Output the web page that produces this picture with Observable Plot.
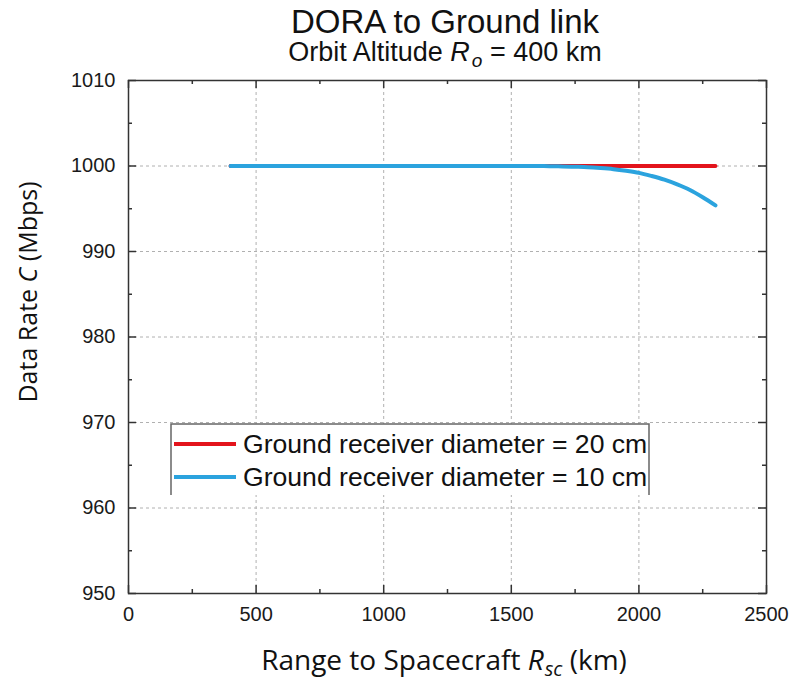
<!DOCTYPE html>
<html>
<head>
<meta charset="utf-8">
<script src="https://cdn.jsdelivr.net/npm/d3@7"></script>
<script src="https://cdn.jsdelivr.net/npm/@observablehq/plot@0.6"></script>
<style>
  html, body { margin: 0; padding: 0; background: #fff; }
  #chart { width: 792px; height: 681px; position: relative; }
</style>
</head>
<body>
<div id="chart"></div>
<script>
// ---- data ----
const titleText = "DORA to Ground link";
const seriesNames = ["Ground receiver diameter = 20 cm", "Ground receiver diameter = 10 cm"];
const rangeKm  = [400, 600, 800, 1000, 1200, 1400, 1500, 1550, 1600, 1650, 1700, 1750, 1800, 1850, 1900, 1950, 2000, 2050, 2100, 2150, 2200, 2250, 2300];
const rate20cm = [1000, 1000, 1000, 1000, 1000, 1000, 1000, 1000, 1000, 1000, 1000, 1000, 1000, 1000, 1000, 1000, 1000, 1000, 1000, 1000, 1000, 1000, 1000];
const rate10cm = [1000, 1000, 1000, 1000, 1000, 1000, 1000, 1000, 999.99, 999.98, 999.95, 999.91, 999.86, 999.76, 999.63, 999.44, 999.2, 998.83, 998.4, 997.85, 997.2, 996.35, 995.4];
const xTicks = [0, 500, 1000, 1500, 2000, 2500];
const xMinor = [250, 750, 1250, 1750, 2250];
const yTicks = [950, 960, 970, 980, 990, 1000, 1010];
const yMinor = [955, 965, 975, 985, 995, 1005];
const colors = ["#e3141c", "#2ba3de"];

const rows20 = rangeKm.map((x, i) => ({x, y: rate20cm[i]}));
const rows10 = rangeKm.map((x, i) => ({x, y: rate10cm[i]}));

const W = 792, H = 681;
const mL = 128, mR = 26, mT = 80, mB = 88;
const fw = W - mL - mR, fh = H - mT - mB;
const tickCol = "#333";

const plot = Plot.plot({
  width: W, height: H,
  marginLeft: mL, marginRight: mR, marginTop: mT, marginBottom: mB,
  style: {fontFamily: "'Liberation Sans', Arial, sans-serif", fontSize: "20px", color: "#1a1a1a", background: "#fff"},
  x: {domain: [0, 2500], ticks: xTicks, tickSize: 0, tickPadding: 13, tickFormat: "d", label: null},
  y: {domain: [950, 1010], ticks: yTicks, tickSize: 0, tickPadding: 13, tickFormat: "d", label: null},
  marks: [
    Plot.ruleX(xTicks.slice(1, -1), {stroke: "#b0b0b0", strokeWidth: 1, strokeDasharray: "3,3"}),
    Plot.ruleY(yTicks.slice(1, -1), {stroke: "#b0b0b0", strokeWidth: 1, strokeDasharray: "3,3"}),
    // inward ticks on all four sides
    Plot.ruleX(xTicks, {insetTop: fh - 8, stroke: tickCol, strokeWidth: 1.5}),
    Plot.ruleX(xTicks, {insetBottom: fh - 8, stroke: tickCol, strokeWidth: 1.5}),
    Plot.ruleX(xMinor, {insetTop: fh - 4, stroke: tickCol, strokeWidth: 1.5}),
    Plot.ruleX(xMinor, {insetBottom: fh - 4, stroke: tickCol, strokeWidth: 1.5}),
    Plot.ruleY(yTicks, {insetRight: fw - 8, stroke: tickCol, strokeWidth: 1.5}),
    Plot.ruleY(yTicks, {insetLeft: fw - 8, stroke: tickCol, strokeWidth: 1.5}),
    Plot.ruleY(yMinor, {insetRight: fw - 4, stroke: tickCol, strokeWidth: 1.5}),
    Plot.ruleY(yMinor, {insetLeft: fw - 4, stroke: tickCol, strokeWidth: 1.5}),
    Plot.line(rows20, {x: "x", y: "y", stroke: colors[0], strokeWidth: 4, curve: "monotone-x"}),
    Plot.line(rows10, {x: "x", y: "y", stroke: colors[1], strokeWidth: 4, curve: "monotone-x"}),
    Plot.frame({stroke: tickCol, strokeWidth: 1.5})
  ]
});

document.getElementById("chart").appendChild(plot);
const svg = d3.select(plot);

// Title & subtitle
svg.append("text").attr("x", 445).attr("y", 33).attr("text-anchor", "middle")
  .attr("font-family", "'Liberation Sans', Arial, sans-serif").attr("font-size", 33).attr("fill", "#111")
  .text(titleText);
const sub = svg.append("text").attr("x", 445).attr("y", 61).attr("text-anchor", "middle")
  .attr("font-family", "'Liberation Sans', Arial, sans-serif").attr("font-size", 27).attr("fill", "#111");
sub.append("tspan").text("Orbit Altitude ");
sub.append("tspan").attr("font-style", "italic").text("R");
sub.append("tspan").attr("font-style", "italic").attr("font-size", 19).attr("dx", 2).attr("baseline-shift", "-6px").text("o");
sub.append("tspan").text(" = 400 km");

// Axis labels
const xl = svg.append("text").attr("x", 444).attr("y", 670).attr("text-anchor", "middle")
  .attr("font-family", "'Open Sans', sans-serif").attr("font-size", 28).attr("fill", "#111");
xl.append("tspan").text("Range to Spacecraft ");
xl.append("tspan").attr("font-style", "italic").text("R");
xl.append("tspan").attr("font-style", "italic").attr("font-size", 20).attr("dx", 1).attr("baseline-shift", "-6px").text("sc");
xl.append("tspan").text(" (km)");

const yl = svg.append("text").attr("transform", "translate(37,292) rotate(-90)").attr("text-anchor", "middle")
  .attr("font-family", "'Open Sans', sans-serif").attr("font-size", 25).attr("fill", "#111");
yl.append("tspan").text("Data Rate ");
yl.append("tspan").attr("font-style", "italic").text("C");
yl.append("tspan").text(" (Mbps)");

// Legend
const lg = svg.append("g");
lg.append("rect").attr("x", 171).attr("y", 424).attr("width", 478).attr("height", 71).attr("fill", "#fff");
lg.append("path").attr("d", "M171,495V424H649V495").attr("fill", "none").attr("stroke", "#666").attr("stroke-width", 1.5);
seriesNames.forEach((name, i) => {
  const cy = 444 + i * 33;
  lg.append("line").attr("x1", 174).attr("x2", 236).attr("y1", cy).attr("y2", cy)
    .attr("stroke", colors[i]).attr("stroke-width", 4);
  lg.append("text").attr("x", 243).attr("y", cy + 9).attr("text-anchor", "start")
    .attr("font-family", "'Liberation Sans', Arial, sans-serif").attr("font-size", 26.6).attr("fill", "#111")
    .text(name);
});
</script>
</body>
</html>
